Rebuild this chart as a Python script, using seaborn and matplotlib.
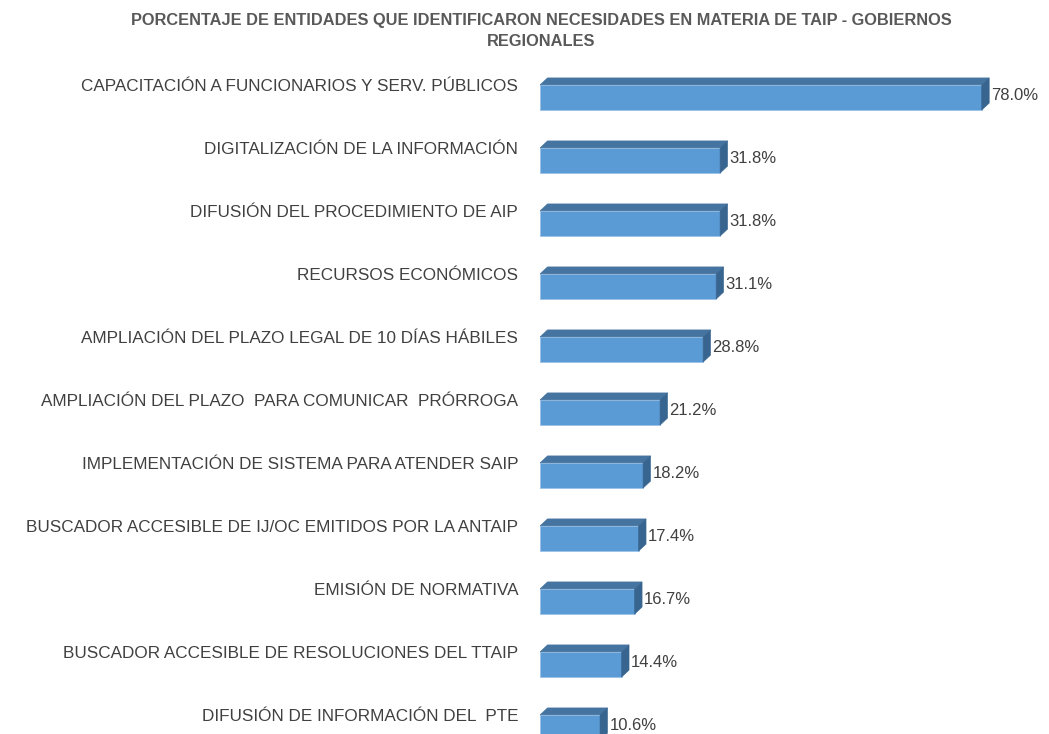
import matplotlib
matplotlib.use('Agg')
import matplotlib.pyplot as plt
from matplotlib.patches import Polygon
import pandas as pd
import seaborn as sns

necesidades = [
    'CAPACITACIÓN A FUNCIONARIOS Y SERV. PÚBLICOS',
    'DIGITALIZACIÓN DE LA INFORMACIÓN',
    'DIFUSIÓN DEL PROCEDIMIENTO DE AIP',
    'RECURSOS ECONÓMICOS',
    'AMPLIACIÓN DEL PLAZO LEGAL DE 10 DÍAS HÁBILES',
    'AMPLIACIÓN DEL PLAZO  PARA COMUNICAR  PRÓRROGA',
    'IMPLEMENTACIÓN DE SISTEMA PARA ATENDER SAIP',
    'BUSCADOR ACCESIBLE DE IJ/OC EMITIDOS POR LA ANTAIP',
    'EMISIÓN DE NORMATIVA',
    'BUSCADOR ACCESIBLE DE RESOLUCIONES DEL TTAIP',
    'DIFUSIÓN DE INFORMACIÓN DEL  PTE',
]
porcentajes = [78.0, 31.8, 31.8, 31.1, 28.8, 21.2, 18.2, 17.4, 16.7, 14.4, 10.6]

titulo = 'PORCENTAJE DE ENTIDADES QUE IDENTIFICARON NECESIDADES EN MATERIA DE TAIP - GOBIERNOS\nREGIONALES'

FRONT = '#5B9BD5'
TOP = '#44749F'
SIDE = '#386590'

sns.set_style('white')
plt.rcParams['font.family'] = ['Liberation Sans', 'DejaVu Sans']

df = pd.DataFrame({'necesidad': necesidades, 'valor': porcentajes})

W, H = 1049, 734
fig = plt.figure(figsize=(W / 100, H / 100), dpi=100)
# axes from x=540 px to right edge, y from 60 px to bottom
ax = fig.add_axes([540 / W, 0, 1 - 540 / W, (H - 60) / H])

sns.barplot(df, x='valor', y='necesidad', orient='h', color=FRONT, saturation=1,
            width=0.4, edgecolor='#9cc2e8', linewidth=0.6, ax=ax)

px_per_pct = 5.663
px_per_row = 63.0
ax.set_xlim(0, (W - 540) / px_per_pct)
ax.set_ylim(10 + (734 - 727.5) / px_per_row, -(97.5 - 60) / px_per_row)
ax.axis('off')

# 3D depth in data units
dx = 7.5 / px_per_pct
dy = 7.0 / px_per_row

for p in list(ax.patches):
    x0, w = p.get_x(), p.get_width()
    y0, h = p.get_y(), p.get_height()
    x1 = x0 + w
    ytop = y0  # inverted axis: smaller y is higher on screen
    ybot = y0 + h
    top = Polygon([(x0, ytop), (x1, ytop), (x1 + dx, ytop - dy), (x0 + dx, ytop - dy)],
                  closed=True, facecolor=TOP, edgecolor=TOP, linewidth=0.4)
    side = Polygon([(x1, ytop), (x1 + dx, ytop - dy), (x1 + dx, ybot - dy), (x1, ybot)],
                   closed=True, facecolor=SIDE, edgecolor=SIDE, linewidth=0.4)
    ax.add_patch(top)
    ax.add_patch(side)

for i, (lab, v) in enumerate(zip(necesidades, porcentajes)):
    ax.annotate(lab, xy=(0, i), xycoords='data', xytext=(-22, 11),
                textcoords='offset pixels', ha='right', va='center',
                fontsize=12.3, color='#404040', annotation_clip=False)
    ax.annotate(f'{v:.1f}%', xy=(v + dx, i), xycoords='data', xytext=(2, 2),
                textcoords='offset pixels', ha='left', va='center',
                fontsize=12, color='#404040', annotation_clip=False)

fig.text(541 / W, 1 - 31.5 / H, titulo, ha='center', va='center', fontsize=11.8,
         fontweight='bold', color='#595959', linespacing=1.5)

fig.savefig('out.png', dpi=100)
